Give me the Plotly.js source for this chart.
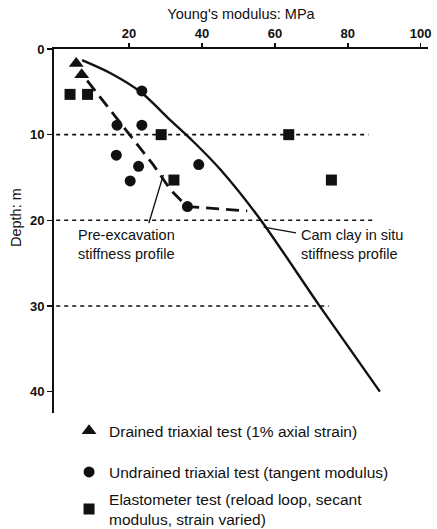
<!DOCTYPE html>
<html>
<head>
<meta charset="utf-8">
<script src="https://cdn.plot.ly/plotly-3.0.1.min.js"></script>
<style>html,body{margin:0;padding:0;background:#fff;}#chart{width:437px;height:529px;}</style>
</head>
<body>
<div id="chart"></div>
<script>
// Data
const xTicks = [20, 40, 60, 80, 100];
const yTicks = [0, 10, 20, 30, 40];

const drainedE = [5.5, 7.0];
const drainedDepth = [1.7, 3.0];

const undrainedE = [23.5, 16.7, 23.5, 16.5, 22.6, 20.3, 39.1, 36.0];
const undrainedDepth = [4.9, 8.9, 8.9, 12.4, 13.7, 15.4, 13.5, 18.4];

const elastoE = [3.8, 8.6, 28.8, 63.8, 32.3, 75.5];
const elastoDepth = [5.3, 5.3, 10.0, 10.0, 15.3, 15.3];

const camClayE = [7.1, 14.8, 23.1, 31.3, 37.6, 45.1, 56.0, 72.1, 88.8];
const camClayDepth = [1.3, 2.8, 5.0, 8.3, 10.8, 14.1, 19.9, 29.9, 40.0];

const preExcE = [8.5, 19.4, 26.6, 31.3, 35.9, 52.4];
const preExcDepth = [3.7, 9.6, 13.5, 16.4, 18.4, 18.9];

const refDepths = [10, 20, 30];
const refEnds = [85.7, 87.0, 74.8];

const legendNames = [
  'Drained triaxial test (1% axial strain)',
  'Undrained triaxial test (tangent modulus)',
  'Elastometer test (reload loop, secant<br>modulus, strain varied)'
];

const FONT = 'Liberation Sans, Arial, Helvetica, sans-serif';
const traces = [];

refDepths.forEach((d, i) => {
  traces.push({
    x: [0, refEnds[i]], y: [d, d], mode: 'lines', showlegend: false, hoverinfo: 'skip',
    line: {color: '#111', width: 1.6, dash: '4px,4px'}
  });
});

traces.push({
  x: camClayE, y: camClayDepth, mode: 'lines', showlegend: false,
  line: {color: '#111', width: 2.4, shape: 'spline', smoothing: 0.8}
});
traces.push({
  x: preExcE, y: preExcDepth, mode: 'lines', showlegend: false,
  line: {color: '#111', width: 2.8, dash: '13px,7px'}
});

traces.push({
  x: drainedE, y: drainedDepth, mode: 'markers', name: legendNames[0], legend: 'legend',
  marker: {symbol: 'triangle-up', size: 13, color: '#111'}
});
traces.push({
  x: undrainedE, y: undrainedDepth, mode: 'markers', name: legendNames[1], legend: 'legend2',
  marker: {symbol: 'circle', size: 11, color: '#111'}
});
traces.push({
  x: elastoE, y: elastoDepth, mode: 'markers', name: legendNames[2], legend: 'legend3',
  marker: {symbol: 'square', size: 11, color: '#111'}
});

function leg(yc) {
  return {
    xref: 'container', yref: 'container', x: 0.158, y: yc,
    xanchor: 'left', yanchor: 'middle',
    bgcolor: 'rgba(0,0,0,0)', borderwidth: 0,
    font: {family: FONT, size: 15.5, color: '#111'}
  };
}

const layout = {
  width: 437, height: 529,
  margin: {l: 54, r: 9, t: 49, b: 116, autoexpand: false},
  paper_bgcolor: '#fff', plot_bgcolor: '#fff',
  font: {family: FONT, color: '#111'},
  showlegend: true,
  legend: leg(0.185),
  legend2: leg(0.107),
  legend3: leg(0.037),
  xaxis: {
    side: 'top', range: [-0.6, 102], tickvals: xTicks, ticktext: xTicks.map(String),
    showline: true, linecolor: '#111', linewidth: 2, ticks: 'outside', ticklen: 4, tickwidth: 1.5,
    tickcolor: '#111', showgrid: false, zeroline: false, tickangle: 0, automargin: false,
    tickfont: {family: FONT, size: 13, weight: 'bold', color: '#111'},
    title: {text: "Young's modulus: MPa", font: {family: FONT, size: 14.5, color: '#111'}, standoff: 3}
  },
  yaxis: {
    range: [42.5, 0], tickvals: yTicks, ticktext: yTicks.map(String),
    showline: true, linecolor: '#111', linewidth: 2, ticks: 'outside', ticklen: 5, tickwidth: 1.5,
    tickcolor: '#111', showgrid: false, zeroline: false, automargin: false,
    tickfont: {family: FONT, size: 13, weight: 'bold', color: '#111'}
  },
  annotations: [
    {x: -0.102, y: 0.538, xref: 'paper', yref: 'paper', xanchor: 'center', yanchor: 'middle',
     textangle: -90, showarrow: false, text: 'Depth: m', font: {family: FONT, size: 14.5, color: '#111'}},
    {x: 5.3, y: 22.8, xref: 'x', yref: 'y', xanchor: 'left', yanchor: 'middle', align: 'left',
     showarrow: false, text: 'Pre-excavation<br>stiffness profile', font: {family: FONT, size: 14.5, color: '#111'}},
    {x: 66.5, y: 22.8, xref: 'x', yref: 'y', xanchor: 'left', yanchor: 'middle', align: 'left',
     showarrow: false, text: 'Cam clay in situ<br>stiffness profile', font: {family: FONT, size: 14.5, color: '#111'}},
    {x: 29.4, y: 14.7, ax: 25.3, ay: 20.5, xref: 'x', yref: 'y', axref: 'x', ayref: 'y',
     text: '', showarrow: true, arrowhead: 0, arrowwidth: 1.4, arrowcolor: '#111'},
    {x: 56.9, y: 20.8, ax: 66.2, ay: 21.5, xref: 'x', yref: 'y', axref: 'x', ayref: 'y',
     text: '', showarrow: true, arrowhead: 0, arrowwidth: 1.4, arrowcolor: '#111'}
  ]
};

Plotly.newPlot('chart', traces, layout, {displayModeBar: false, staticPlot: true});
</script>
</body>
</html>
